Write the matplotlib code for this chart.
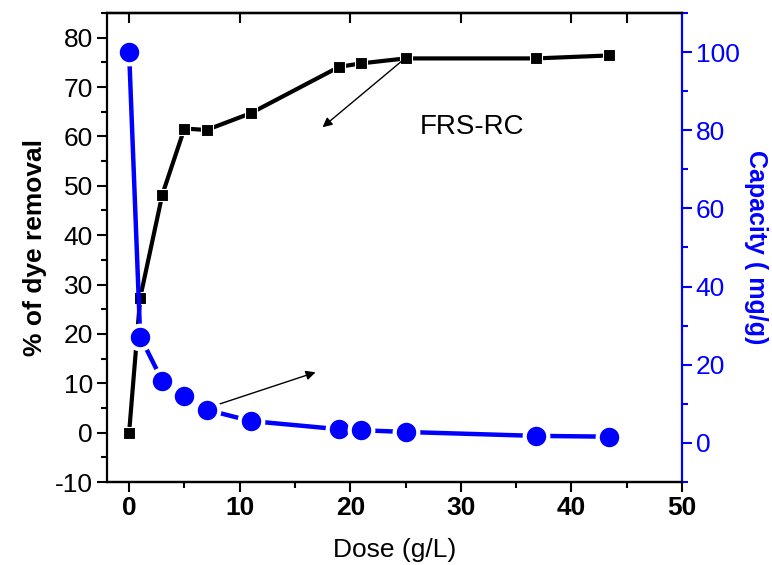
import numpy as np
import matplotlib
matplotlib.use('Agg')
import matplotlib.pyplot as plt
from matplotlib.ticker import MultipleLocator, FixedLocator

plt.rcParams['font.family'] = ['Liberation Sans', 'DejaVu Sans']
plt.rcParams['axes.unicode_minus'] = False

# dose in g/L
dose = [0, 1, 3, 5, 7, 11, 19, 21, 25, 36.8, 43.4]
# % of dye removal (left axis)
removal = [0, 27.3, 48.2, 61.6, 61.3, 64.7, 74.1, 74.8, 75.8, 75.8, 76.4]
# adsorption capacity in mg/g (right axis)
capacity = [100, 27.2, 15.9, 12.1, 8.5, 5.6, 3.5, 3.25, 2.8, 1.8, 1.6]

blue = '#0000ff'

fig = plt.figure(figsize=(7.72, 5.65), dpi=100)
ax = fig.add_axes([0.1386, 0.1469, 0.7448, 0.8301])
ax2 = ax.twinx()

ax.plot(dose, removal, color='black', lw=3, marker='s', ms=8,
        mfc='black', mec='white', mew=0.8, zorder=3)
ax2.plot(dose, capacity, color=blue, lw=3.2, marker='o', ms=17,
         mfc=blue, mec='white', mew=3, zorder=3)

ax.set_xlim(-2, 50)
ax.set_ylim(-10, 85)
ax2.set_ylim(-10, 110)

# axes styling
for s in ['left', 'bottom', 'top']:
    ax.spines[s].set_linewidth(1.6)
    ax2.spines[s].set_linewidth(1.6)
ax.spines['right'].set_visible(False)
ax2.spines['right'].set_color(blue)
ax2.spines['right'].set_linewidth(1.6)
ax2.spines['left'].set_visible(False)

ax.xaxis.set_major_locator(MultipleLocator(10))
ax.xaxis.set_minor_locator(MultipleLocator(5))
ax.yaxis.set_major_locator(MultipleLocator(10))
ax.yaxis.set_minor_locator(MultipleLocator(5))
ax2.yaxis.set_major_locator(MultipleLocator(20))
ax2.yaxis.set_minor_locator(MultipleLocator(10))

ax.tick_params(axis='both', which='major', direction='out', length=7, width=1.5,
               labelsize=19, pad=3)
ax.tick_params(axis='both', which='minor', direction='out', length=4, width=1.5)
ax.tick_params(axis='y', right=False, which='both')
for lab in ax.get_xticklabels():
    lab.set_fontweight('bold')
ax2.tick_params(axis='y', which='major', direction='out', length=7, width=1.5,
                colors=blue, labelsize=19, pad=3)
ax2.tick_params(axis='y', which='minor', direction='out', length=4, width=1.5,
                colors=blue)

# inward ticks along the top edge
top = ax.secondary_xaxis('top')
top.xaxis.set_major_locator(FixedLocator([0, 10, 20, 30, 40, 45]))
top.xaxis.set_minor_locator(FixedLocator([]))
top.tick_params(direction='in', length=7, width=1.5, labeltop=False)
top.spines['top'].set_linewidth(1.6)

ax.set_xlabel('Dose (g/L)', fontsize=19, labelpad=13)
ax.set_ylabel('% of dye removal', fontsize=19, fontweight='bold', labelpad=6)
ax2.set_ylabel('Capacity ( mg/g)', fontsize=18, fontweight='bold', color=blue,
               rotation=270, labelpad=20)

ax.text(31, 62, 'FRS-RC', fontsize=20, ha='center', va='center')

arrow = dict(arrowstyle='-|>', color='black', lw=1, mutation_scale=14)
ax.annotate('', xy=(17.3, 61.5), xytext=(25, 75.9), arrowprops=arrow)
ax.annotate('', xy=(17.1, 12.4), xytext=(6.7, 4.7), arrowprops=arrow)

fig.savefig('out.png', dpi=100)
